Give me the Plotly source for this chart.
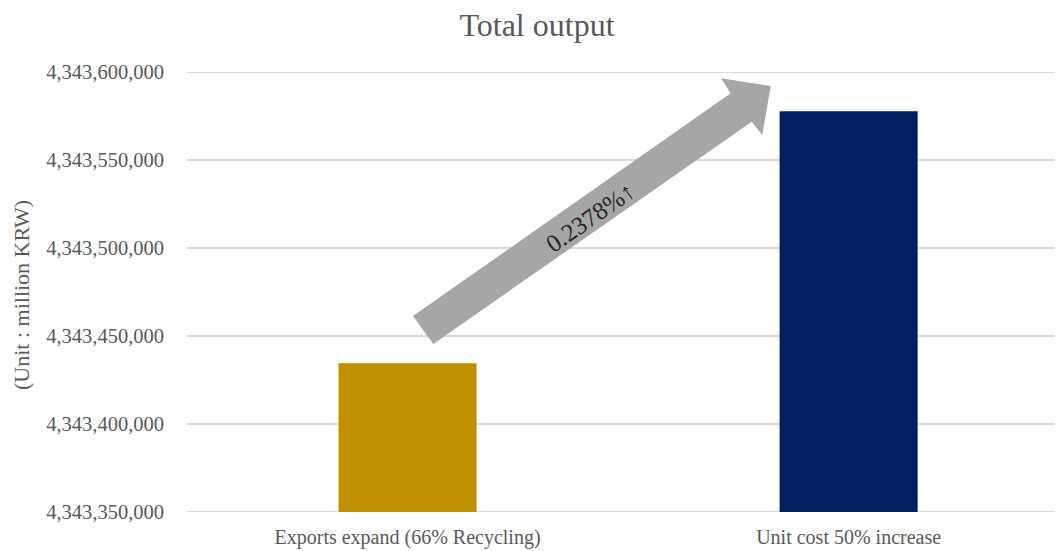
import plotly.graph_objects as go

categories = ["Exports expand (66% Recycling)", "Unit cost 50% increase"]
values = [4343434500, 4343577700]
bar_colors = ["#BF9000", "#002060"]
y_ticks = [4343350000, 4343400000, 4343450000, 4343500000, 4343550000, 4343600000]
title_text = "Total output"
y_title = "(Unit : million KRW)"
arrow_label = "0.2378%↑"

OFF = 8  # page body margin
W, H = 1063 - OFF, 551 - OFF
L, R, T, B = 187 - OFF, 0, 72 - OFF, 39
PW, PH = W - L - R, H - T - B

def px2paper(px, py):
    # page pixel -> paper coords
    return (px - OFF - L) / PW, (H - B - (py - OFF)) / PH

FONT = "Liberation Serif, Times New Roman, serif"

fig = go.Figure()

# gridlines at range edges (plotly hides them there)
for yv in (y_ticks[0], y_ticks[-1]):
    fig.add_shape(type="line", xref="paper", yref="y", x0=0, x1=1, y0=yv, y1=yv,
                  line=dict(color="#D9D9D9", width=2), layer="below")

fig.add_trace(go.Bar(
    x=categories, y=values, marker_color=bar_colors, width=0.313,
    marker_line_width=0, showlegend=False,
))

# arrow outline (decoration)
pts = [(413, 316), (730.7, 93.3), (721, 78.3), (770.7, 86), (762.3, 135), (751.7, 121.7), (433.3, 344)]
path = ""
for i, (a, b) in enumerate(pts):
    x, y = px2paper(a, b)
    path += ("M" if i == 0 else "L") + f"{x:.5f},{y:.5f} "
path += "Z"
fig.add_shape(type="path", path=path, xref="paper", yref="paper",
              fillcolor="#A6A6A6", line=dict(width=0), layer="above")

ax, ay = px2paper(590, 217)
fig.add_annotation(x=ax, y=ay, xref="paper", yref="paper", text=arrow_label,
                   showarrow=False, textangle=-35, xanchor="center", yanchor="middle",
                   font=dict(family=FONT, size=25, color="#262626"))

tx, ty = px2paper(21, 295)
fig.add_annotation(x=tx, y=ty, xref="paper", yref="paper", text=y_title,
                   showarrow=False, textangle=-90, xanchor="center", yanchor="middle",
                   borderpad=0,
                   font=dict(family=FONT, size=22, color="#595959"))

fig.update_layout(
    width=W, height=H,
    margin=dict(l=L, r=R, t=T, b=B, pad=0),
    paper_bgcolor="white", plot_bgcolor="white",
    title=dict(text=title_text, x=(537 - OFF) / W, xanchor="center",
               y=1 - (25 - OFF) / H, yanchor="middle",
               font=dict(family=FONT, size=32, color="#595959")),
    xaxis=dict(range=[-0.5, 1.486], showgrid=False, zeroline=False, showline=False,
               tickfont=dict(family=FONT, size=20, color="#595959"), ticks="",
               ticklabelstandoff=11),
    yaxis=dict(range=[y_ticks[0], y_ticks[-1]], tickvals=y_ticks, tickformat=",",
               showgrid=True, gridcolor="#D9D9D9", gridwidth=2, zeroline=False,
               showline=False, ticks="",
               tickfont=dict(family=FONT, size=20.5, color="#595959"),
               ticklabelstandoff=22),
    bargap=0.6,
)

fig.write_html("out.html")
